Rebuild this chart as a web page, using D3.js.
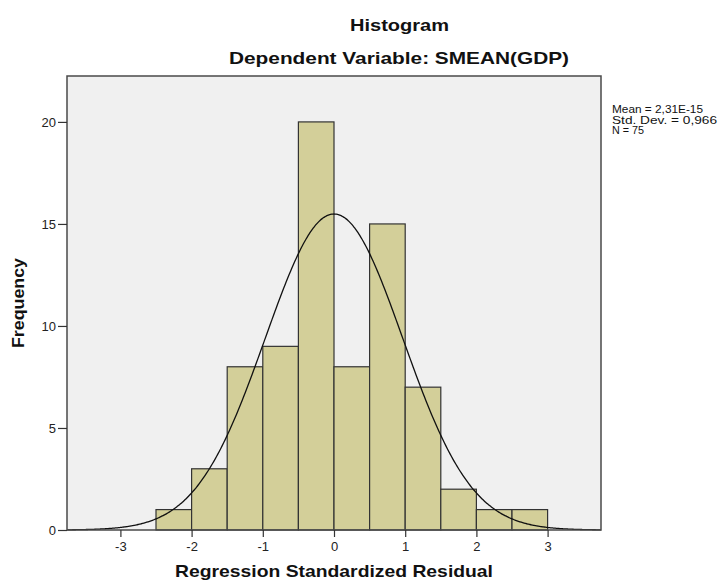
<!DOCTYPE html>
<html><head><meta charset="utf-8">
<script src="https://cdn.jsdelivr.net/npm/d3@7"></script>
<style>body{margin:0;background:#fff;} svg{display:block;font-family:Arial,"Liberation Sans",sans-serif;}</style>
</head><body>
<svg id="chart" width="719" height="582"></svg>
<script>
const binStarts = [-2.5,-2,-1.5,-1,-0.5,0,0.5,1,1.5,2,2.5];
const binWidth = 0.5;
const counts = [1,3,8,9,20,8,15,7,2,1,1];
const xTicks = [-3,-2,-1,0,1,2,3];
const yTicks = [0,5,10,15,20];
const statsLines = ["Mean = 2,31E-15","Std. Dev. = 0,966","N = 75"];
const statsWidths = [91,105,32];
const fitMean = 0, fitSd = 0.966, fitN = 75;

const svg = d3.select("#chart");
const L=67, R=601, T=76, B=530;
const x = d3.scaleLinear().domain([-3.75,3.75]).range([L,R]);
const y = d3.scaleLinear().domain([0,22.25]).range([B,T]);

svg.append("rect").attr("x",L).attr("y",T).attr("width",R-L).attr("height",B-T).attr("fill","#f0f0f0");

svg.selectAll("rect.bar").data(binStarts).enter().append("rect").attr("class","bar")
  .attr("x",d=>x(d)).attr("width",d=>x(d+binWidth)-x(d))
  .attr("y",(d,i)=>y(counts[i])).attr("height",(d,i)=>y(0)-y(counts[i]))
  .attr("fill","#d3cf99").attr("stroke","#333").attr("stroke-width",1.2);

// fitted normal curve from the stated parameters (mean, sd, N)
const curvePts = d3.range(-3.75,3.7501,0.02).map(v=>[v, fitN*binWidth/(fitSd*Math.sqrt(2*Math.PI))*Math.exp(-0.5*((v-fitMean)/fitSd)**2)]);
svg.append("path").datum(curvePts).attr("fill","none").attr("stroke","#111").attr("stroke-width",1.3)
  .attr("d",d3.line().x(d=>x(d[0])).y(d=>y(d[1])).curve(d3.curveBasis));

svg.append("rect").attr("x",L).attr("y",T).attr("width",R-L).attr("height",B-T).attr("fill","none").attr("stroke","#4a4a4a").attr("stroke-width",1.5);

const xa = svg.append("g").attr("transform",`translate(0,${B})`)
  .call(d3.axisBottom(x).tickValues(xTicks).tickSize(7).tickSizeOuter(0).tickFormat(d3.format("d")));
xa.select(".domain").remove();
xa.selectAll("line").attr("stroke","#333").attr("stroke-width",1.2);
xa.selectAll("text").attr("font-size",13).attr("fill","#222").attr("y",21).attr("dy",null).attr("font-family","Arial,'Liberation Sans',sans-serif");
xa.selectAll("text").text(d=>d<0?"-"+Math.abs(d):d);

const ya = svg.append("g").attr("transform",`translate(${L},0)`)
  .call(d3.axisLeft(y).tickValues(yTicks).tickSize(9).tickSizeOuter(0));
ya.select(".domain").remove();
ya.selectAll("line").attr("stroke","#333").attr("stroke-width",1.2);
ya.selectAll("text").attr("font-size",13).attr("fill","#222").attr("x",-11).attr("font-family","Arial,'Liberation Sans',sans-serif");

function title(txt, xx, yy, w){
  return svg.append("text").attr("x",xx).attr("y",yy).attr("text-anchor","middle").attr("font-weight","bold")
    .attr("font-size",17).attr("fill","#111").attr("textLength",w).attr("lengthAdjust","spacingAndGlyphs").text(txt);
}
title("Histogram",399.5,31,99);
title("Dependent Variable: SMEAN(GDP)",399,64,340);
title("Regression Standardized Residual",334,577,318);
svg.append("text").attr("transform","translate(24,303) rotate(-90)").attr("text-anchor","middle").attr("font-weight","bold")
  .attr("font-size",17).attr("fill","#111").attr("textLength",90).attr("lengthAdjust","spacingAndGlyphs").text("Frequency");

svg.append("g").selectAll("text").data(statsLines).enter().append("text")
  .attr("x",612).attr("y",(d,i)=>113+i*10.5).attr("font-size",11).attr("fill","#111")
  .attr("textLength",(d,i)=>statsWidths[i]).attr("lengthAdjust","spacingAndGlyphs").text(d=>d);
</script>
</body></html>
